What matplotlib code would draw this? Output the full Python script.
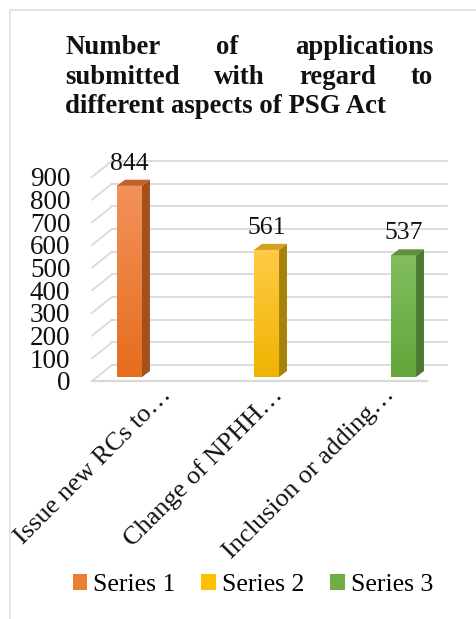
import numpy as np
import matplotlib.pyplot as plt
import matplotlib.transforms as mtransforms
from matplotlib.patches import Polygon, Rectangle, Patch
from matplotlib.colors import LinearSegmentedColormap

# data
categories = ["Issue new RCs to…", "Change of NPHH…", "Inclusion or adding…"]
values = [844, 561, 537]
series = ["Series 1", "Series 2", "Series 3"]
y_ticks = [0, 100, 200, 300, 400, 500, 600, 700, 800, 900]

title_lines = [["Number", "of", "applications"],
               ["submitted", "with", "regard", "to"],
               ["different aspects of PSG Act"]]

# colours (front top, front bottom, side, top)
front_top = ["#f2925c", "#ffcb48", "#82bd5e"]
front_bot = ["#e66d1c", "#efb300", "#62a63a"]
side_col = ["#a2501c", "#a88208", "#4a7a30"]
top_col = ["#c2622a", "#d0a020", "#5e9040"]
legend_col = ["#ed7d31", "#ffc000", "#70ad47"]
grid_col = "#d9d9d9"

serif = ['Liberation Serif', 'DejaVu Serif']
plt.rcParams['font.family'] = serif

W, H = 476, 619
fig = plt.figure(figsize=(W / 100, H / 100), dpi=100)

# light frame around the chart area
fig.patches.append(Rectangle((10 / W, -0.05), 1.0, 1 - 10 / H + 0.05,
                             transform=fig.transFigure, fill=False,
                             edgecolor="#dfe3e8", lw=1.3))

ax = fig.add_axes([92 / W, 238 / H, 335 / W, 204 / H])
xl, xr = -0.274, 2.171
ymax = 900

# oblique depth offsets (data units)
wall_dx, wall_dy = 0.146, 70.6
bar_w = 0.182
bar_base = 17.6
bar_dx, bar_dy = 0.058, 26.5

# back wall grid + side wall diagonals
for v in y_ticks:
    ax.plot([xl + wall_dx, xr + wall_dx], [v + wall_dy, v + wall_dy],
            color=grid_col, lw=1.3, clip_on=False, zorder=1)
    ax.plot([xl, xl + wall_dx], [v, v + wall_dy],
            color=grid_col, lw=1.3, clip_on=False, zorder=1)
ax.plot([xl, xr], [0, 0], color=grid_col, lw=1.6, clip_on=False, zorder=1)

grad = np.linspace(0, 1, 256).reshape(-1, 1)
for i, v in enumerate(values):
    x0, x1 = i - bar_w / 2, i + bar_w / 2
    y0, y1 = bar_base, bar_base + v
    cmap = LinearSegmentedColormap.from_list("g%d" % i, [front_top[i], front_bot[i]])
    im = ax.imshow(grad, extent=(x0, x1, y0, y1), aspect='auto', cmap=cmap,
                   origin='upper', zorder=3)
    im.set_clip_on(False)
    ax.add_patch(Polygon([(x1, y0), (x1 + bar_dx, y0 + bar_dy),
                          (x1 + bar_dx, y1 + bar_dy), (x1, y1)],
                         closed=True, facecolor=side_col[i], edgecolor='none',
                         zorder=3, clip_on=False))
    ax.add_patch(Polygon([(x0, y1), (x1, y1), (x1 + bar_dx, y1 + bar_dy),
                          (x0 + bar_dx, y1 + bar_dy)],
                         closed=True, facecolor=top_col[i], edgecolor='none',
                         zorder=3, clip_on=False))
    ax.annotate(str(v), (i, y1 + bar_dy), xytext=(0, 11.5), textcoords='offset points',
                ha='center', va='center', fontsize=18.5, color='#111111',
                family=serif, annotation_clip=False)

ax.set_xlim(xl, xr)
ax.set_ylim(0, ymax)

# category labels, evenly spread along the front floor edge
slot = (xr - xl) / len(categories)
lab_tr = mtransforms.offset_copy(ax.transData, fig=fig, x=24, y=-15, units='dots')
for k, lab in enumerate(categories):
    ax.text(xl + (k + 0.5) * slot, 0, lab, rotation=45, ha='right', va='baseline',
            rotation_mode='anchor', fontsize=19, color='#111111', family=serif,
            transform=lab_tr, clip_on=False)

ax.set_yticks(y_ticks)
ax.set_xticks([])
ax.tick_params(axis='y', length=0, pad=15.5, labelsize=19.5, labelcolor='#111111')
for s in ax.spines.values():
    s.set_visible(False)
ax.patch.set_visible(False)

# justified bold title
renderer = fig.canvas.get_renderer()
left, right = 65, 433
for k, words in enumerate(title_lines):
    y = 1 - (54 + 29.5 * k) / H
    texts = [fig.text(left / W, y, w, fontsize=19.3, fontweight='bold', family=serif,
                      va='baseline', ha='left', color='#111111') for w in words]
    if len(words) == 1:
        continue
    widths = [t.get_window_extent(renderer).width for t in texts]
    gap = (right - left - sum(widths)) / (len(words) - 1)
    x = left
    for t, wd in zip(texts, widths):
        t.set_x(x / W)
        x += wd + gap

handles = [Patch(facecolor=c, edgecolor='none', label=s) for c, s in zip(legend_col, series)]
fig.legend(handles=handles, loc='center', bbox_to_anchor=(253 / W, 1 - 585 / H),
           ncol=3, frameon=False, handlelength=0.56, handleheight=0.56,
           handletextpad=0.25, columnspacing=1.0,
           prop={'family': serif, 'size': 18.5})

fig.savefig("out.png", dpi=100)
